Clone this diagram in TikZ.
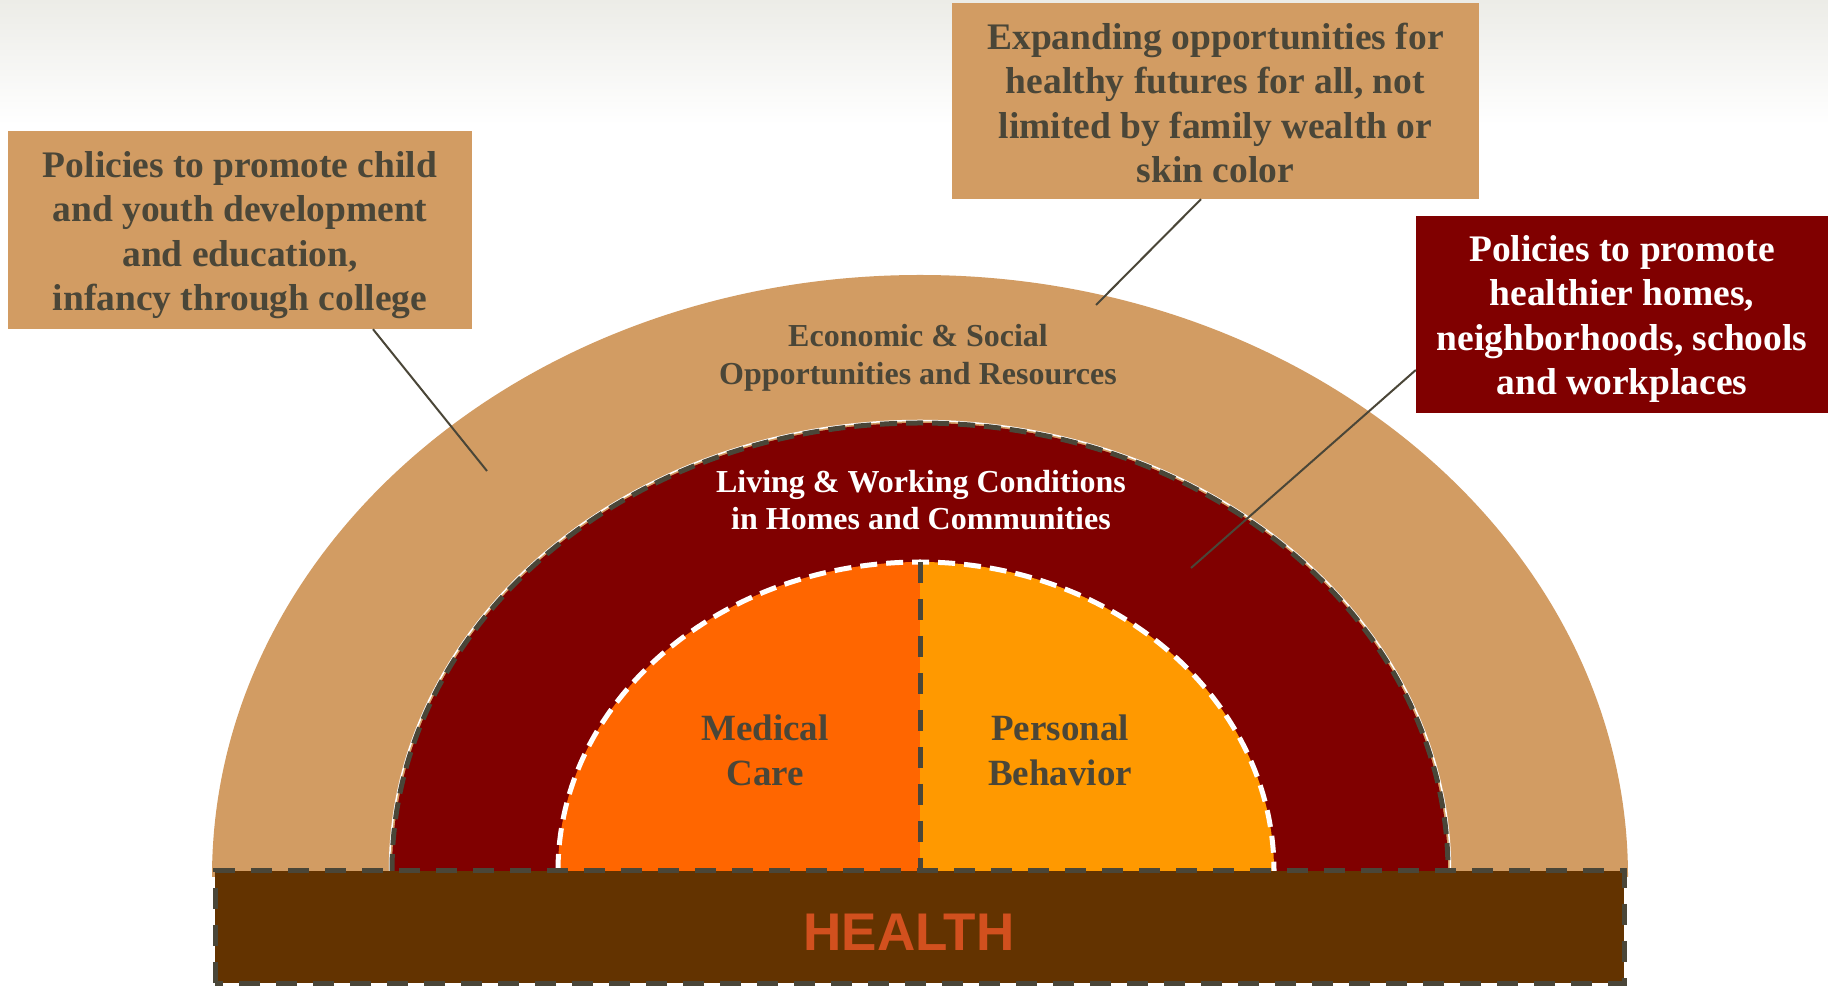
\documentclass[tikz,border=0pt]{standalone}
\usepackage{fontspec}
\setmainfont{Liberation Serif}
\newfontfamily\healthfont{Liberation Sans}
\usetikzlibrary{positioning,calc}

\definecolor{ringtan}{RGB}{210,156,99}
\definecolor{wine}{RGB}{128,0,0}
\definecolor{carrot}{RGB}{255,102,0}
\definecolor{amber}{RGB}{255,153,0}
\definecolor{umber}{RGB}{99,51,0}
\definecolor{ink}{RGB}{74,70,56}
\definecolor{rust}{RGB}{210,80,30}
\definecolor{haze}{RGB}{236,236,231}

\begin{document}
\begin{tikzpicture}[x=1pt, y=1pt,
    boxtext/.style={font=\bfseries\fontsize{37.5}{44.5}\selectfont, align=center, inner sep=0pt},
    ringtext/.style={font=\bfseries\fontsize{32}{37.5}\selectfont, align=center, inner sep=0pt},
    coretext/.style={font=\bfseries\fontsize{37}{45}\selectfont, align=center, inner sep=0pt, text=ink},
    arcdash/.style={line width=5pt, dash pattern=on 17pt off 9pt},
    linedash/.style={line width=5pt, dash pattern=on 21pt off 16pt, ink},
    pointer/.style={line width=2pt, ink}]
    % page and faint top band
    \useasboundingbox (0,0) rectangle (1828,985);
    \fill[white] (0,0) rectangle (1828,985);
    \shade[top color=haze, bottom color=white] (0,860) rectangle (1828,985);

    % rings
    \fill[ringtan] (212,108) arc[start angle=180, end angle=0, x radius=708, y radius=602] -- cycle;
    \fill[wine] (392,114) arc[start angle=180, end angle=0, x radius=528, y radius=448] -- cycle;
    \draw[white, line width=1.5pt] (389.5,114) arc[start angle=180, end angle=0, x radius=530.5, y radius=450.5];
    \draw[arcdash, ink] (392,114) arc[start angle=180, end angle=0, x radius=528, y radius=448];

    % core halves
    \fill[carrot] (558,114) arc[start angle=180, end angle=90, x radius=362, y radius=309] -- (920,114) -- cycle;
    \fill[amber] (920,423) arc[start angle=90, end angle=0, x radius=354, y radius=309] -- (920,114) -- cycle;
    \draw[arcdash, white] (558,114) arc[start angle=180, end angle=90, x radius=362, y radius=309]
        arc[start angle=90, end angle=0, x radius=354, y radius=309];
    \draw[linedash] (920,423) -- (920,114);

    % base
    \fill[umber] (215,2) rectangle (1624,114);
    \draw[linedash] (215,2) rectangle (1624,114);

    % callout boxes
    \node[fill=ringtan, minimum width=464pt, minimum height=198pt] (childbox) at (240,755) {};
    \node[fill=ringtan, minimum width=527pt, minimum height=196pt] (futurebox) at (1215.5,884) {};
    \node[fill=wine, minimum width=412pt, minimum height=197pt] (homebox) at (1622,670.5) {};
    \node[boxtext, text=ink] (childtext) at ([yshift=-5pt]childbox.center)
        {Policies to promote child\\and youth development\\and education,\\infancy through college};
    \node[boxtext, text=ink] (futuretext) at ([yshift=-2pt]futurebox.center)
        {Expanding opportunities for\\healthy futures for all, not\\limited by family wealth or\\skin color};
    \node[boxtext, text=white] (hometext) at ([yshift=-4.5pt]homebox.center)
        {Policies to promote\\healthier homes,\\neighborhoods, schools\\and workplaces};

    % ring labels
    \node[ringtext, text=ink] (econ) at (918,627) {Economic \& Social\\Opportunities and Resources};
    \node[ringtext, text=white] (living) at (921,485) {Living \& Working Conditions\\in Homes and Communities};
    \node[coretext] (medical) at (765,235) {Medical\\Care};
    \node[coretext] (personal) at (1060,235) {Personal\\Behavior};
    \node[font=\healthfont\bfseries\fontsize{53}{53}\selectfont, text=rust, inner sep=0pt] (health) at (909,52.5) {HEALTH};

    % pointers
    \coordinate (econpt) at (487,514);
    \coordinate (futurept) at (1096,680);
    \coordinate (livingpt) at (1191,417);
    \draw[pointer] ([xshift=133pt]childbox.south) -- (econpt);
    \draw[pointer] ([xshift=-14.5pt]futurebox.south) -- (futurept);
    \draw[pointer] ([yshift=-55.5pt]homebox.west) -- (livingpt);
\end{tikzpicture}
\end{document}
